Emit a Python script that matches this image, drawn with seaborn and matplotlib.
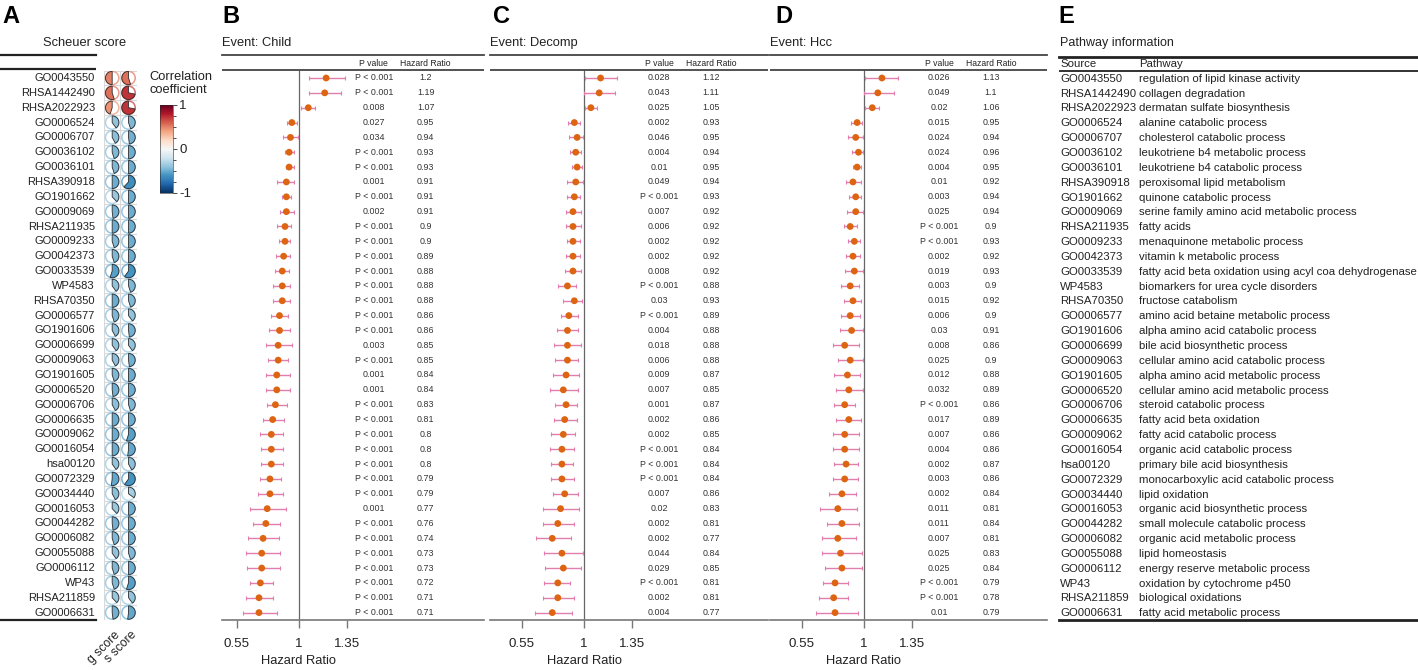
import numpy as np
import pandas as pd
import matplotlib
matplotlib.use("Agg")
import matplotlib.pyplot as plt
import seaborn as sns
from matplotlib.patches import Wedge, Circle
from matplotlib.colors import Normalize
from matplotlib.cm import ScalarMappable
import matplotlib.transforms as mtransforms

# ---------------- data ----------------
pathway_ids = ["GO0043550", "RHSA1442490", "RHSA2022923", "GO0006524", "GO0006707", "GO0036102",
               "GO0036101", "RHSA390918", "GO1901662", "GO0009069", "RHSA211935", "GO0009233",
               "GO0042373", "GO0033539", "WP4583", "RHSA70350", "GO0006577", "GO1901606",
               "GO0006699", "GO0009063", "GO1901605", "GO0006520", "GO0006706", "GO0006635",
               "GO0009062", "GO0016054", "hsa00120", "GO0072329", "GO0034440", "GO0016053",
               "GO0044282", "GO0006082", "GO0055088", "GO0006112", "WP43", "RHSA211859", "GO0006631"]
pathway_names = ["regulation of lipid kinase activity", "collagen degradation", "dermatan sulfate biosynthesis",
                 "alanine catabolic process", "cholesterol catabolic process", "leukotriene b4 metabolic process",
                 "leukotriene b4 catabolic process", "peroxisomal lipid metabolism", "quinone catabolic process",
                 "serine family amino acid metabolic process", "fatty acids", "menaquinone metabolic process",
                 "vitamin k metabolic process", "fatty acid beta oxidation using acyl coa dehydrogenase",
                 "biomarkers for urea cycle disorders", "fructose catabolism", "amino acid betaine metabolic process",
                 "alpha amino acid catabolic process", "bile acid biosynthetic process",
                 "cellular amino acid catabolic process", "alpha amino acid metabolic process",
                 "cellular amino acid metabolic process", "steroid catabolic process", "fatty acid beta oxidation",
                 "fatty acid catabolic process", "organic acid catabolic process", "primary bile acid biosynthesis",
                 "monocarboxylic acid catabolic process", "lipid oxidation", "organic acid biosynthetic process",
                 "small molecule catabolic process", "organic acid metabolic process", "lipid homeostasis",
                 "energy reserve metabolic process", "oxidation by cytochrome p450", "biological oxidations",
                 "fatty acid metabolic process"]

score_names = ["g score", "s score"]
g_score = [0.5, 0.55, 0.45, -0.4, -0.42, -0.45, -0.45, -0.5, -0.38, -0.48, -0.5, -0.45, -0.45, -0.55,
           -0.4, -0.5, -0.45, -0.42, -0.4, -0.42, -0.45, -0.48, -0.42, -0.5, -0.5, -0.5, -0.4, -0.52,
           -0.42, -0.38, -0.48, -0.45, -0.4, -0.45, -0.45, -0.38, -0.48]
s_score = [0.55, 0.72, 0.72, -0.45, -0.48, -0.5, -0.5, -0.62, -0.5, -0.5, -0.5, -0.5, -0.5, -0.6,
           -0.45, -0.45, -0.4, -0.48, -0.4, -0.48, -0.5, -0.5, -0.45, -0.5, -0.55, -0.52, -0.42, -0.6,
           -0.35, -0.5, -0.5, -0.5, -0.45, -0.5, -0.55, -0.4, -0.52]

P1 = "P < 0.001"
child_p = [P1, P1, "0.008", "0.027", "0.034", P1, P1, "0.001", P1, "0.002", P1, P1, P1, P1, P1, P1, P1, P1,
           "0.003", P1, "0.001", "0.001", P1, P1, P1, P1, P1, P1, P1, "0.001", P1, P1, P1, P1, P1, P1, P1]
child_hr = [1.2, 1.19, 1.07, 0.95, 0.94, 0.93, 0.93, 0.91, 0.91, 0.91, 0.9, 0.9, 0.89, 0.88, 0.88, 0.88,
            0.86, 0.86, 0.85, 0.85, 0.84, 0.84, 0.83, 0.81, 0.8, 0.8, 0.8, 0.79, 0.79, 0.77, 0.76, 0.74,
            0.73, 0.73, 0.72, 0.71, 0.71]
child_lo = [1.075, 1.075, 1.02, 0.917, 0.883, 0.90, 0.905, 0.84, 0.875, 0.866, 0.84, 0.854, 0.837, 0.825,
            0.815, 0.815, 0.795, 0.785, 0.76, 0.776, 0.76, 0.76, 0.769, 0.737, 0.715, 0.725, 0.725, 0.715,
            0.705, 0.645, 0.664, 0.628, 0.613, 0.625, 0.645, 0.613, 0.596]
child_hi = [1.335, 1.31, 1.12, 0.99, 0.995, 0.965, 0.965, 0.965, 0.945, 0.965, 0.947, 0.94, 0.94, 0.93,
            0.94, 0.94, 0.924, 0.94, 0.953, 0.924, 0.934, 0.934, 0.915, 0.895, 0.883, 0.883, 0.883, 0.873,
            0.883, 0.905, 0.864, 0.854, 0.864, 0.864, 0.815, 0.815, 0.844]

decomp_p = ["0.028", "0.043", "0.025", "0.002", "0.046", "0.004", "0.01", "0.049", P1, "0.007", "0.006",
            "0.002", "0.002", "0.008", P1, "0.03", P1, "0.004", "0.018", "0.006", "0.009", "0.007", "0.001",
            "0.002", "0.002", P1, P1, P1, "0.007", "0.02", "0.002", "0.002", "0.044", "0.029", P1, "0.002",
            "0.004"]
decomp_hr = [1.12, 1.11, 1.05, 0.93, 0.95, 0.94, 0.95, 0.94, 0.93, 0.92, 0.92, 0.92, 0.92, 0.92, 0.88,
             0.93, 0.89, 0.88, 0.88, 0.88, 0.87, 0.85, 0.87, 0.86, 0.85, 0.84, 0.84, 0.84, 0.86, 0.83, 0.81,
             0.77, 0.84, 0.85, 0.81, 0.81, 0.77]
decomp_lo = [1.005, 1.0, 1.005, 0.882, 0.891, 0.899, 0.911, 0.879, 0.879, 0.867, 0.867, 0.874, 0.867,
             0.862, 0.812, 0.85, 0.831, 0.804, 0.783, 0.792, 0.773, 0.754, 0.792, 0.783, 0.763, 0.754,
             0.763, 0.763, 0.773, 0.70, 0.70, 0.652, 0.71, 0.72, 0.71, 0.70, 0.643]
decomp_hi = [1.237, 1.225, 1.097, 0.971, 0.993, 0.978, 0.983, 0.993, 0.971, 0.976, 0.976, 0.971, 0.971,
             0.976, 0.94, 0.983, 0.954, 0.954, 0.976, 0.954, 0.966, 0.954, 0.947, 0.947, 0.937, 0.925,
             0.918, 0.925, 0.954, 0.966, 0.925, 0.908, 0.995, 0.976, 0.899, 0.925, 0.915]

hcc_p = ["0.026", "0.049", "0.02", "0.015", "0.024", "0.024", "0.004", "0.01", "0.003", "0.025", P1, P1,
         "0.002", "0.019", "0.003", "0.015", "0.006", "0.03", "0.008", "0.025", "0.012", "0.032", P1, "0.017",
         "0.007", "0.004", "0.002", "0.003", "0.002", "0.011", "0.011", "0.007", "0.025", "0.025", P1, P1,
         "0.01"]
hcc_hr = [1.13, 1.1, 1.06, 0.95, 0.94, 0.96, 0.95, 0.92, 0.94, 0.94, 0.9, 0.93, 0.92, 0.93, 0.9, 0.92,
          0.9, 0.91, 0.86, 0.9, 0.88, 0.89, 0.86, 0.89, 0.86, 0.86, 0.87, 0.86, 0.84, 0.81, 0.84, 0.81,
          0.83, 0.84, 0.79, 0.78, 0.79]
hcc_lo = [1.005, 1.0, 1.005, 0.906, 0.884, 0.913, 0.918, 0.867, 0.894, 0.877, 0.855, 0.884, 0.867, 0.865,
          0.836, 0.853, 0.836, 0.824, 0.778, 0.814, 0.785, 0.795, 0.785, 0.795, 0.778, 0.778, 0.785, 0.778,
          0.749, 0.684, 0.734, 0.698, 0.693, 0.715, 0.705, 0.676, 0.654]
hcc_hi = [1.249, 1.22, 1.111, 0.983, 0.99, 0.99, 0.978, 0.978, 0.978, 0.993, 0.949, 0.969, 0.969, 0.99,
          0.961, 0.981, 0.971, 0.99, 0.961, 0.993, 0.971, 0.993, 0.932, 0.981, 0.961, 0.961, 0.954, 0.954,
          0.942, 0.952, 0.961, 0.94, 0.983, 0.983, 0.882, 0.882, 0.954]

hr_ticks = [0.55, 1, 1.35]
hr_ticklabels = ["0.55", "1", "1.35"]

# ---------------- style ----------------
sns.set_theme(style="white")
plt.rcParams["font.family"] = ["Liberation Sans", "DejaVu Sans"]

W, H = 1418, 670
fig = plt.figure(figsize=(W / 100, H / 100), dpi=100)
fig.patch.set_facecolor("white")

ROW0, ROWH = 78.0, 14.85
N = len(pathway_ids)
TXT = "#222222"
ORANGE = "#DD6410"
PINK = "#E07FAD"


def px_axes(x0, y0, x1, y1):
    return fig.add_axes([x0 / W, 1 - y1 / H, (x1 - x0) / W, (y1 - y0) / H])


def row_of(py):
    return (py - ROW0) / ROWH


def clean(ax):
    ax.set_xticks([])
    ax.set_yticks([])
    ax.set_facecolor("none")
    for s in ax.spines.values():
        s.set_visible(False)


# panel letters
for letter, lx in zip("ABCDE", [2, 222, 493, 775, 1058]):
    fig.text(lx / W, 1 - 16.5 / H, letter, fontsize=17, fontweight="bold", ha="left", va="center", color="black")

# ---------------- Panel A ----------------
axL = px_axes(0, 55, 96, 620)
clean(axL)
axL.set_xlim(0, 1)
axL.set_ylim(row_of(620), row_of(55))
for s in ["top", "bottom"]:
    axL.spines[s].set_visible(True)
    axL.spines[s].set_linewidth(1.6)
    axL.spines[s].set_color("#222222")
axL.axhline(row_of(69), color="#222222", lw=1.6)
for i, pid in enumerate(pathway_ids):
    axL.text(0.99, i, pid, ha="right", va="center", fontsize=8.0, color=TXT)
fig.text(85 / W, 1 - 43 / H, "Scheuer score", ha="center", va="center", fontsize=9.3, color=TXT)

cmap = plt.get_cmap("RdBu_r")
norm = Normalize(-1, 1)

axG = px_axes(104, ROW0 - ROWH / 2, 136.7, 620)
clean(axG)
col_step = 1.1
axG.set_xlim(-0.55, 0.55 + col_step)
axG.set_ylim(-(N - 0.5), 0.5)
for k in range(3):
    axG.axvline(-0.55 + k * col_step, color="#d9d9d9", lw=0.8)
for j in range(N + 1):
    axG.axhline(0.5 - j, color="#d9d9d9", lw=0.8)
R = 0.45
for c, vals in enumerate([g_score, s_score]):
    for i, v in enumerate(vals):
        cx, cy = c * col_step, -i
        col = np.array(cmap(norm(v)))
        light = 0.7 * col[:3] + 0.3 * np.ones(3)
        axG.add_patch(Circle((cx, cy), R, fill=False, edgecolor=light, lw=1.1, zorder=2))
        if v >= 0:
            t1, t2 = 90, 90 + 360 * v
        else:
            t1, t2 = 90 - 360 * abs(v), 90
        axG.add_patch(Wedge((cx, cy), R, t1, t2, facecolor=col, edgecolor="#2b2b2b", lw=0.6, zorder=3))
for c, nm in enumerate(score_names):
    fig.text((104 + 8 + c * 16.3 + 2) / W, 1 - 629 / H, nm, rotation=45, ha="right", va="top",
             rotation_mode="anchor", fontsize=8.8, color=TXT)

# colorbar
axC = px_axes(160, 105, 173, 193)
cb = fig.colorbar(ScalarMappable(norm=norm, cmap=cmap), cax=axC, ticks=[-1, 0, 1])
cb.ax.set_yticklabels(["-1", "0", "1"])
cb.ax.yaxis.set_minor_locator(matplotlib.ticker.FixedLocator(np.arange(-1, 1.01, 0.25)))
cb.ax.tick_params(which="both", direction="out", length=3, width=0.6, colors="#333333", labelsize=9.5,
                  pad=1.5, labelcolor=TXT)
cb.ax.tick_params(which="minor", length=2)
cb.outline.set_linewidth(0.4)
fig.text(149 / W, 1 - 71 / H, "Correlation\ncoefficient", ha="left", va="top", fontsize=9.3,
         linespacing=1.1, color=TXT)


# ---------------- Forest panels ----------------
def forest(x0, x1, one_px, scale, title, hr, lo, hi, pv):
    ax = px_axes(x0, 55, x1, 620)
    ax.set_facecolor("none")
    xmin, xmax = 1 - (one_px - x0) / scale, 1 + (x1 - one_px) / scale
    ax.set_xlim(xmin, xmax)
    ybot, ytop = row_of(620), row_of(55)
    ax.set_ylim(ybot, ytop)
    df = pd.DataFrame({"row": np.arange(len(hr)), "hr": hr, "lo": lo, "hi": hi})
    ax.errorbar(df["hr"], df["row"], xerr=[df["hr"] - df["lo"], df["hi"] - df["hr"]], fmt="none",
                ecolor=PINK, elinewidth=1.0, capsize=1.6, capthick=0.8, zorder=2)
    sns.scatterplot(data=df, x="hr", y="row", ax=ax, color=ORANGE, s=24, edgecolor="none", zorder=3,
                    legend=False)
    hline_y = row_of(70.3)
    ax.vlines(1, hline_y, ybot, color="#666666", lw=0.9, zorder=1)
    ax.axhline(hline_y, color="#444444", lw=1.3)
    for s in ["left", "right"]:
        ax.spines[s].set_visible(False)
    ax.spines["top"].set_color("#444444")
    ax.spines["top"].set_linewidth(1.3)
    ax.spines["bottom"].set_color("#777777")
    ax.spines["bottom"].set_linewidth(1.2)
    ax.set_yticks([])
    ax.set_xticks(hr_ticks)
    ax.set_xticklabels(hr_ticklabels)
    ax.tick_params(axis="x", bottom=True, length=6, width=1.0, color="#777777", pad=7, labelsize=9.6,
                   labelcolor=TXT)
    ax.set_xlabel("")
    ax.set_ylabel("")
    pcol = 1 + 75 / scale
    hcol = 1 + 127 / scale
    hy = row_of(63)
    ax.text(pcol, hy, "P value", ha="center", va="center", fontsize=6.2, color=TXT)
    ax.text(hcol, hy, "Hazard Ratio", ha="center", va="center", fontsize=6.2, color=TXT)
    for i in range(len(hr)):
        ax.text(pcol, i, pv[i], ha="center", va="center", fontsize=6.4, color="#333333")
        ax.text(hcol, i, f"{hr[i]:g}", ha="center", va="center", fontsize=6.4, color="#333333")
    trans = mtransforms.blended_transform_factory(ax.transData, ax.transAxes)
    ax.text(1, (620 - 661) / 565, "Hazard Ratio", transform=trans, ha="center", va="center",
            fontsize=9.3, color=TXT, clip_on=False)
    fig.text(x0 / W, 1 - 43 / H, title, ha="left", va="center", fontsize=9.3, color=TXT)
    return ax


forest(222, 484, 298.7, 137.0, "Event: Child", child_hr, child_lo, child_hi, child_p)
forest(490, 768, 584.0, 138.0, "Event: Decomp", decomp_hr, decomp_lo, decomp_hi, decomp_p)
forest(770, 1047, 864.0, 138.0, "Event: Hcc", hcc_hr, hcc_lo, hcc_hi, hcc_p)

# ---------------- Panel E ----------------
axE = px_axes(1059, 56.7, 1418, 620)
clean(axE)
axE.set_xlim(1059, 1418)
axE.set_ylim(row_of(620), row_of(56.7))
for s in ["top", "bottom"]:
    axE.spines[s].set_visible(True)
    axE.spines[s].set_linewidth(2.0)
    axE.spines[s].set_color("#222222")
axE.axhline(row_of(71), color="#222222", lw=1.3)
fig.text(1060 / W, 1 - 43 / H, "Pathway information", ha="left", va="center", fontsize=9, color=TXT)
axE.text(1060, row_of(64), "Source", ha="left", va="center", fontsize=8.2, color=TXT)
axE.text(1139, row_of(64), "Pathway", ha="left", va="center", fontsize=8.2, color=TXT)
for i, (pid, nm) in enumerate(zip(pathway_ids, pathway_names)):
    axE.text(1060, i + 0.05, pid, ha="left", va="center", fontsize=8.2, color=TXT)
    axE.text(1139, i + 0.05, nm, ha="left", va="center", fontsize=8.2, color=TXT)

fig.savefig("out.png", dpi=100, facecolor="white")
